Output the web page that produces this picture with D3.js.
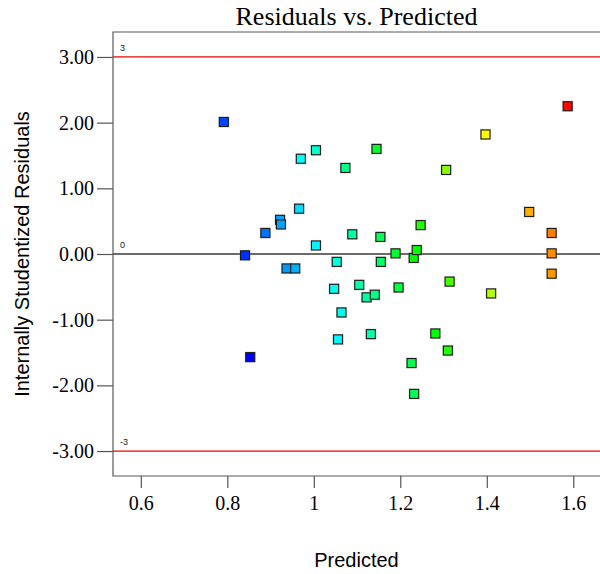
<!DOCTYPE html>
<html>
<head>
<meta charset="utf-8">
<script src="https://cdn.jsdelivr.net/npm/d3@7"></script>
<style>
  html, body { margin: 0; padding: 0; background: #fff; }
  svg { display: block; }
</style>
</head>
<body>
<svg id="chart" width="600" height="574"></svg>
<script>
// Predicted response for each run
const predicted = [
  0.792, 0.841, 0.853, 0.888, 0.922, 0.924, 0.937, 0.957, 0.966, 0.970,
  1.005, 1.005, 1.073, 1.053, 1.047, 1.064, 1.056, 1.089, 1.105, 1.122,
  1.141, 1.132, 1.145, 1.154, 1.155, 1.189, 1.196, 1.231, 1.238, 1.247,
  1.226, 1.232, 1.281, 1.306, 1.310, 1.314, 1.397, 1.410, 1.498, 1.550,
  1.550, 1.550, 1.587
];
// Internally studentized residual for each run
const residuals = [
  2.01, -0.02, -1.57, 0.32, 0.52, 0.45, -0.22, -0.22, 0.69, 1.45,
  1.58, 0.13, 1.31, -0.12, -0.53, -0.89, -1.30, 0.30, -0.47, -0.66,
  -0.62, -1.22, 1.60, 0.26, -0.12, 0.01, -0.51, -0.06, 0.06, 0.44,
  -1.66, -2.13, -1.21, 1.28, -1.47, -0.42, 1.82, -0.60, 0.64, 0.32,
  0.01, -0.30, 2.25
];
const yTicks = [-3, -2, -1, 0, 1, 2, 3];
const xTicks = [0.6, 0.8, 1, 1.2, 1.4, 1.6];
const limits = [3, 0, -3];

(function draw() {
  const svg = d3.select("#chart");
  const plotL = 113, plotR = 600, plotT = 32, plotB = 476;

  const x = d3.scaleLinear().domain([0.5357, 1.6618]).range([plotL, plotR]);
  const y = d3.scaleLinear().domain([-3.38, 3.38]).range([plotB, plotT]);

  // Rainbow ramp used to colour points by response level
  const ramp = d3.scaleLinear()
    .domain([0, 0.25, 0.5, 0.75, 1])
    .range(["#0000ff", "#00ffff", "#00ff00", "#ffff00", "#ff0000"])
    .clamp(true);
  // observed response ~ predicted + s * residual, mapped onto the ramp
  const level = d3.scaleLinear().domain([0.7997, 1.6693]).range([0, 1]);

  const points = predicted.map((p, i) => ({ p, r: residuals[i], a: p + 0.034 * residuals[i] }));

  // Title
  svg.append("text")
    .attr("x", (plotL + plotR) / 2).attr("y", 25)
    .attr("text-anchor", "middle")
    .style("font-family", "'Liberation Serif', 'Times New Roman', serif")
    .style("font-size", "26px")
    .text("Residuals vs. Predicted");

  // Limit lines and zero line
  limits.forEach(v => {
    svg.append("line")
      .attr("x1", plotL).attr("x2", plotR)
      .attr("y1", y(v)).attr("y2", y(v))
      .attr("stroke", v === 0 ? "#3a3a3a" : "#f24a4a")
      .attr("stroke-width", v === 0 ? 1.3 : 1.7);
    svg.append("text")
      .attr("x", plotL + 7).attr("y", y(v) - 6)
      .style("font-family", "'Liberation Sans', Arial, sans-serif")
      .style("font-size", "9px")
      .attr("fill", "#222")
      .text(String(v));
  });

  // Frame (top, left, bottom)
  svg.append("path")
    .attr("d", `M${plotR},${plotT}H${plotL}V${plotB}H${plotR}`)
    .attr("fill", "none")
    .attr("stroke", "#5a5a5a")
    .attr("stroke-width", 1.2);

  // Y axis
  const yAxis = d3.axisLeft(y).tickValues(yTicks).tickSize(16).tickPadding(3)
    .tickFormat(d => d.toFixed(2));
  const gy = svg.append("g").attr("transform", `translate(${plotL},0)`).call(yAxis);
  gy.select(".domain").remove();
  gy.selectAll(".tick line").attr("stroke", "#555").attr("stroke-width", 1.2);
  gy.selectAll(".tick text")
    .attr("fill", "#000")
    .attr("dy", "0.33em")
    .style("font-family", "'Liberation Serif', 'Times New Roman', serif")
    .style("font-size", "20px");

  // X axis
  const xAxis = d3.axisBottom(x).tickValues(xTicks).tickSize(12).tickPadding(8)
    .tickFormat(d => String(d));
  const gx = svg.append("g").attr("transform", `translate(0,${plotB})`).call(xAxis);
  gx.select(".domain").remove();
  gx.selectAll(".tick line").attr("stroke", "#555").attr("stroke-width", 1.2);
  gx.selectAll(".tick text")
    .attr("fill", "#000")
    .style("font-family", "'Liberation Serif', 'Times New Roman', serif")
    .style("font-size", "20px");

  // Axis titles
  svg.append("text")
    .attr("x", (plotL + plotR) / 2).attr("y", 567)
    .attr("text-anchor", "middle")
    .style("font-family", "'Liberation Sans', Arial, sans-serif")
    .style("font-size", "20px")
    .text("Predicted");

  svg.append("text")
    .attr("transform", `translate(29,${(plotT + plotB) / 2}) rotate(-90)`)
    .attr("text-anchor", "middle")
    .style("font-family", "'Liberation Sans', Arial, sans-serif")
    .style("font-size", "20px")
    .text("Internally Studentized Residuals");

  // Points: soft halo, then the coloured square
  const g = svg.append("g");
  const s = 9;
  g.selectAll("rect.halo").data(points).enter().append("rect")
    .attr("class", "halo")
    .attr("x", d => x(d.p) - (s + 2) / 2)
    .attr("y", d => y(d.r) - (s + 2) / 2)
    .attr("width", s + 2).attr("height", s + 2)
    .attr("fill", "#9a9a9a").attr("opacity", 0.45);
  g.selectAll("rect.pt").data(points).enter().append("rect")
    .attr("class", "pt")
    .attr("x", d => x(d.p) - s / 2)
    .attr("y", d => y(d.r) - s / 2)
    .attr("width", s).attr("height", s)
    .attr("fill", d => ramp(level(d.a)))
    .attr("stroke", "#1a1a1a")
    .attr("stroke-width", 1.1);
})();
</script>
</body>
</html>
